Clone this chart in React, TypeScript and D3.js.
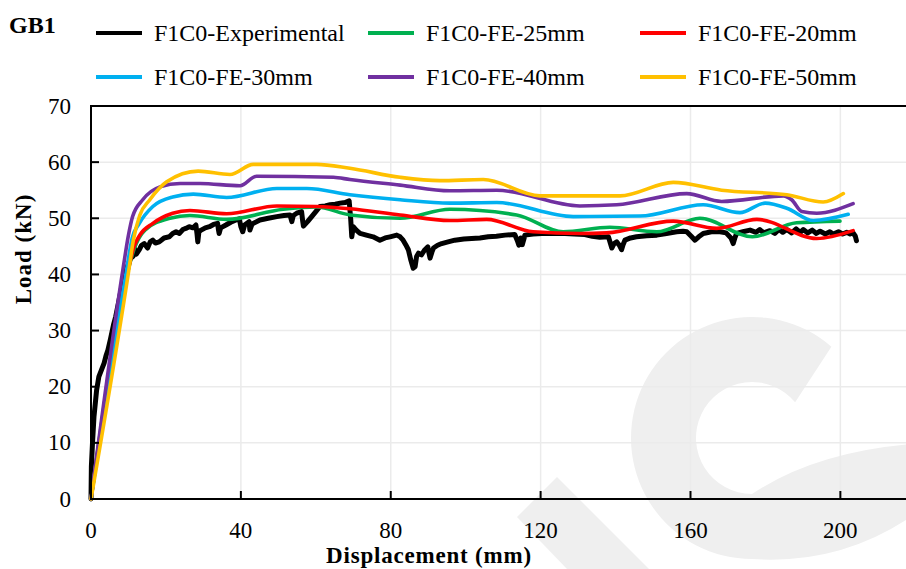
import React from 'react';
import * as d3 from 'd3';

const W = 906;
const H = 569;

const xTicks = [0, 40, 80, 120, 160, 200];
const yTicks = [0, 10, 20, 30, 40, 50, 60, 70];

const seriesNames = ['F1C0-Experimental', 'F1C0-FE-25mm', 'F1C0-FE-20mm', 'F1C0-FE-30mm', 'F1C0-FE-40mm', 'F1C0-FE-50mm'];
const seriesColors = ['#000000', '#00b050', '#ff0000', '#00b0f0', '#7030a0', '#ffc000'];

// Displacement (mm), Load (kN)
const experimental: [number, number][] = [
  [0, 0], [0.1, 5.8], [0.4, 10], [0.8, 14.7], [1.5, 19.4], [2.1, 21.8], [2.8, 23], [3.5, 24.2], [4.0, 25.5], [4.5, 26.5],
  [5.2, 28.5], [6.0, 31], [6.6, 32.5], [7.5, 35.5], [8.4, 38.4], [9.5, 41], [10.5, 42.8], [11.2, 43.2], [11.6, 44.6],
  [12.1, 43.6], [12.9, 44.4], [13.5, 45.2], [14.2, 45.5], [15.1, 44.7], [15.8, 45.8], [16.5, 46.1], [17.2, 45.6],
  [18.2, 45.8], [19.5, 46.5], [20.9, 46.7], [21.8, 47.3], [22.7, 47.6], [23.6, 47.3], [24.5, 48.0], [25.3, 48.2],
  [26.2, 48.5], [27.2, 48.3], [28.0, 48.8], [28.3, 47.2], [28.5, 45.8], [28.8, 47.6], [29.4, 47.9], [30.5, 48.3],
  [31.6, 48.5], [32.7, 48.9], [33.8, 49.1], [34.0, 48.0], [34.2, 47.3], [34.6, 48.3], [36.0, 48.8], [37.3, 49.3],
  [38.7, 49.7], [39.6, 49.9], [40.0, 48.5], [40.5, 47.6], [41.0, 48.8], [42.2, 49.4], [42.4, 47.9], [43.0, 49.0],
  [45.1, 49.7], [47.3, 50.0], [49.6, 50.3], [51.5, 50.5], [53.1, 50.6], [53.6, 49.4], [54.0, 50.5], [54.9, 50.9],
  [56.2, 51.2], [56.5, 49.5], [56.7, 48.6], [57.8, 49.4], [58.9, 50.3], [60.0, 51.2], [61.1, 52.1], [62.5, 52.2],
  [63.8, 52.4], [65.2, 52.5], [66.5, 52.7], [67.8, 52.8], [68.9, 53.1], [69.3, 50], [69.6, 46.7], [70.0, 48.5],
  [70.8, 47.9], [71.8, 47.3], [73.5, 47.0], [75.3, 46.7], [77.1, 46.1], [78.5, 46.5], [79.8, 46.7], [81.6, 47.0],
  [82.5, 46.7], [83.3, 46.1], [84.0, 45.3], [84.7, 44.4], [85.3, 42.7], [86.0, 41.1], [86.5, 41.4], [86.9, 43.2],
  [87.4, 43.8], [88.2, 43.5], [89.1, 44.4], [89.9, 44.9], [90.2, 43.8], [90.5, 42.9], [91.0, 44.0], [91.4, 44.7],
  [92.5, 45.2], [93.6, 45.5], [95.3, 45.8], [97.1, 46.1], [99.5, 46.3], [101.6, 46.4], [103.8, 46.5], [106.0, 46.7],
  [108.2, 46.8], [110.5, 47.0], [113.1, 47.1], [113.8, 46.0], [114.2, 45.2], [114.7, 46.5], [115.1, 45.3],
  [115.5, 46.2], [115.8, 47.0], [118.0, 47.2], [120.3, 47.3], [123.4, 47.3], [126.5, 47.3], [129.0, 47.2],
  [131.8, 47.1], [133.8, 46.8], [135.8, 46.6], [138.1, 46.7], [138.6, 45.6], [139.0, 44.7], [139.6, 45.5],
  [140.3, 45.8], [141.0, 45.2], [141.6, 44.4], [142.0, 45.3], [142.5, 46.1], [144.0, 46.5], [145.6, 46.7],
  [148.3, 46.9], [151.0, 47.0], [153.6, 47.3], [156.3, 47.6], [158.0, 47.7], [159.0, 47.6], [160.2, 46.8],
  [161.2, 46.1], [162.2, 46.7], [163.4, 47.3], [165.6, 47.6], [167.9, 47.6], [169.5, 47.4], [170.8, 46.5],
  [171.4, 45.5], [171.9, 46.6], [172.3, 47.3], [174.0, 47.6], [175.9, 47.9], [177.5, 47.5], [178.5, 48.0],
  [179.5, 47.4], [181.2, 47.8], [182.5, 47.3], [183.6, 48.0], [184.6, 47.5], [185.7, 48.0], [187.0, 47.4],
  [188.2, 48.1], [189.3, 47.5], [190.1, 48.0], [191.3, 47.4], [192.5, 47.9], [193.6, 47.3], [194.6, 47.7],
  [196.0, 47.2], [197.2, 47.6], [198.1, 47.2], [199.5, 47.6], [200.6, 47.2], [201.7, 47.5], [202.6, 47.2],
  [203.4, 47.4], [204.0, 46.8], [204.3, 46.0],
];

const fe25: [number, number][] = [
  [0, 0], [10, 41], [11.5, 44.5], [14.4, 47.9], [21.1, 50.0], [26.4, 50.5], [36.2, 49.8], [51.3, 51.6], [60.2, 52.0],
  [69.1, 50.6], [82.5, 50.0], [95.8, 51.6], [113.6, 50.6], [126, 47.6], [138.5, 48.4], [151, 47.6], [162.5, 50.0],
  [176.5, 46.7], [188.3, 49.2], [199.9, 49.5],
];

const fe20: [number, number][] = [
  [0, 0], [10.0, 41], [11.5, 45], [13, 47], [16.5, 49.1], [21.8, 50.9], [26.4, 51.4], [36.2, 50.8], [49.6, 52.2],
  [60.2, 52.1], [69.1, 51.7], [82.5, 50.6], [95.8, 49.6], [105.6, 49.8], [118, 47.6], [130.5, 47.3], [137.6, 47.4],
  [155.4, 49.5], [167, 48.2], [177.7, 49.8], [193.7, 46.4], [203.4, 47.8],
];

const fe30: [number, number][] = [
  [0, 0], [9.5, 40.8], [11, 46.5], [12.9, 49.1], [16.5, 52.1], [21.8, 53.8], [27.3, 54.3], [36.2, 53.7], [49.6, 55.3],
  [57.6, 55.3], [69.1, 54.2], [82.5, 53.3], [95.8, 52.7], [108.3, 52.8], [128.7, 50.3], [146.5, 50.4], [163.4, 52.4],
  [173.2, 51.0], [179.9, 52.7], [185.7, 51.8], [192.8, 49.6], [202.1, 50.7],
];

const fe40: [number, number][] = [
  [0, 0], [8.5, 40.8], [10, 47], [11.1, 50.3], [13.8, 53.3], [18.4, 55.6], [23.8, 56.2], [29.1, 56.2], [39.8, 55.8],
  [44.2, 57.5], [64.7, 57.3], [69.1, 56.9], [82.5, 55.9], [95.8, 54.9], [108.3, 55.0], [130.5, 52.2], [140.3, 52.4],
  [159.0, 54.4], [168.3, 53.0], [184.8, 54.0], [187, 53.3], [189.7, 51.2], [193.7, 50.9], [203.4, 52.6],
];

const fe50: [number, number][] = [
  [0, 0], [10.1, 40.8], [11.3, 46.1], [13, 50.5], [15.7, 53.3], [20.2, 56.5], [28.6, 58.4], [37.1, 57.8],
  [43.3, 59.6], [60.2, 59.6], [69.1, 58.9], [82.5, 57.3], [93.1, 56.7], [104.7, 56.9], [119.8, 54.0], [141.2, 54.0],
  [155.4, 56.4], [168.3, 55.0], [185.7, 54.2], [195.4, 52.9], [200.8, 54.4],
];

const seriesData = [experimental, fe25, fe20, fe30, fe40, fe50];

const FONT = '"Liberation Serif", "Times New Roman", serif';

export default function App() {
  const x = d3.scaleLinear().domain([0, 220]).range([91, 915.3]);
  const y = d3.scaleLinear().domain([0, 70]).range([499, 106]);

  const smooth = d3.line<[number, number]>().x(d => x(d[0])).y(d => y(d[1])).curve(d3.curveMonotoneX);
  const raw = d3.line<[number, number]>().x(d => x(d[0])).y(d => y(d[1]));

  // faint emblem in the lower right of the background
  const emblem = d3.path();
  const deg = Math.PI / 180;
  const cx = 752, cy = 438;
  emblem.moveTo(cx + 121 * Math.cos(-49 * deg), cy + 121 * Math.sin(-49 * deg));
  emblem.arc(cx, cy, 121, -49 * deg, -270 * deg, true);
  emblem.quadraticCurveTo(840, 565, 912, 516);
  emblem.lineTo(912, 444);
  emblem.quadraticCurveTo(815, 452, cx, cy + 56);
  emblem.arc(cx, cy, 56, 90 * deg, -39.6 * deg + 360 * deg, false);
  emblem.closePath();

  const legendCols = [96, 368, 640];
  const legendRows = [33, 77];

  const [x0, x1] = x.range();
  const [yb, yt] = y.range();

  return (
    <svg width={W} height={H} style={{ position: 'fixed', left: 0, top: 0, background: '#fff' }}>
      <rect width={W} height={H} fill="#ffffff" />
      <path d={emblem.toString()} fill="#efefef" />
      <polygon points="517,517 557,477 650,570 568,570" fill="#efefef" />

      {/* grid */}
      {yTicks.filter(t => t > 0 && t < 70).map(t => (
        <line key={'gy' + t} x1={x0} x2={x1} y1={y(t)} y2={y(t)} stroke="#ebebeb" strokeWidth={1.5} />
      ))}
      {xTicks.filter(t => t > 0).map(t => (
        <line key={'gx' + t} x1={x(t)} x2={x(t)} y1={yt} y2={yb} stroke="#ebebeb" strokeWidth={1.5} />
      ))}

      {/* series */}
      <path d={raw(experimental) || ''} fill="none" stroke={seriesColors[0]} strokeWidth={5} strokeLinejoin="round" strokeLinecap="round" />
      {seriesData.slice(1).map((s, i) => (
        <path key={i} d={smooth(s) || ''} fill="none" stroke={seriesColors[i + 1]} strokeWidth={3.6} strokeLinejoin="round" strokeLinecap="round" />
      ))}

      {/* frame and axes */}
      <line x1={x0} x2={x1} y1={yt} y2={yt} stroke="#000" strokeWidth={2} />
      <line x1={x0} x2={x0} y1={yt - 1} y2={yb + 1} stroke="#000" strokeWidth={2} />
      <line x1={x0 - 1} x2={x1} y1={yb} y2={yb} stroke="#000" strokeWidth={2} />
      {yTicks.map(t => (
        <g key={'ty' + t}>
          <line x1={x0} x2={x0 + 8} y1={y(t)} y2={y(t)} stroke="#000" strokeWidth={2} />
          <text x={71} y={y(t) + 7.5} textAnchor="end" fontFamily={FONT} fontSize={23} fill="#000">{t}</text>
        </g>
      ))}
      {xTicks.map(t => (
        <g key={'tx' + t}>
          <line x1={x(t)} x2={x(t)} y1={yb} y2={yb - 8} stroke="#000" strokeWidth={2} />
          <text x={x(t)} y={538} textAnchor="middle" fontFamily={FONT} fontSize={23} fill="#000">{t}</text>
        </g>
      ))}

      {/* titles */}
      <text x={429} y={563} textAnchor="middle" fontFamily={FONT} fontSize={23} fontWeight="bold" letterSpacing={0.8} fill="#000">Displacement (mm)</text>
      <text transform="translate(31,249) rotate(-90)" textAnchor="middle" fontFamily={FONT} fontSize={23} fontWeight="bold" letterSpacing={1} fill="#000">Load (kN)</text>
      <text x={9} y={33} fontFamily={FONT} fontSize={24} fontWeight="bold" fill="#000">GB1</text>

      {/* legend */}
      {seriesNames.map((name, i) => {
        const lx = legendCols[i % 3];
        const ly = legendRows[Math.floor(i / 3)];
        return (
          <g key={name}>
            <line x1={lx} x2={lx + 46} y1={ly} y2={ly} stroke={seriesColors[i]} strokeWidth={4} />
            <text x={lx + 58} y={ly + 8} fontFamily={FONT} fontSize={24} fill="#000">{name}</text>
          </g>
        );
      })}
    </svg>
  );
}
